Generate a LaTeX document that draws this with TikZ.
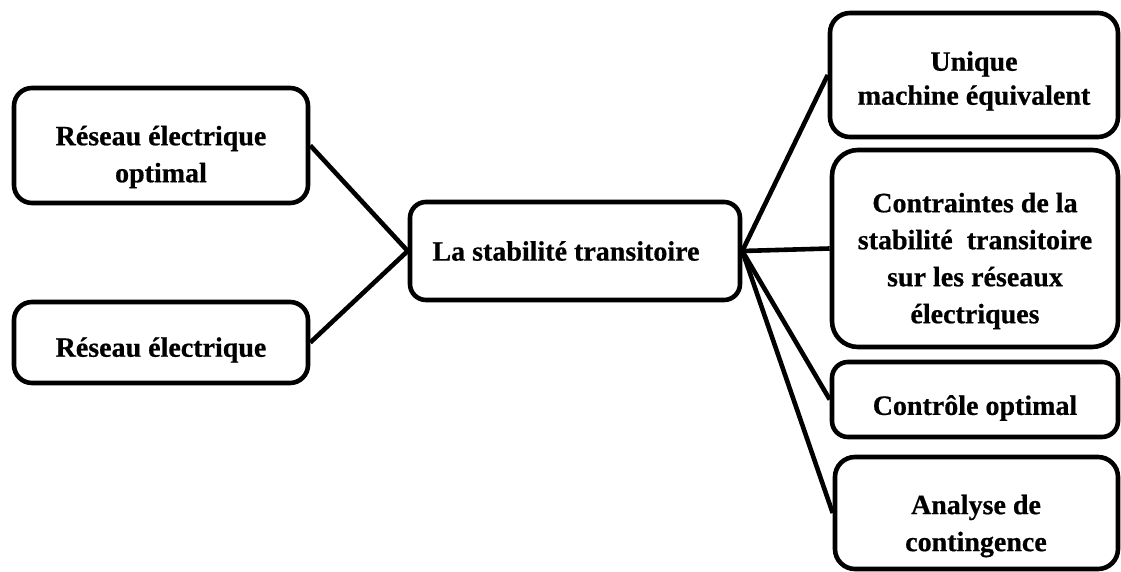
\documentclass[tikz,border=0pt]{standalone}
\usepackage{fontspec}
\setmainfont{Liberation Serif}[BoldFeatures={FakeBold=0.6}]
\begin{document}
\begin{tikzpicture}[x=0.5pt,y=-0.5pt,
  boxnode/.style={draw=black, line width=2.3pt, rectangle, inner sep=0pt},
  txt/.style={font=\bfseries\fontsize{14}{18.5}\selectfont, align=center, inner sep=0pt},
  link/.style={draw=black, line width=2.3pt}]
\useasboundingbox (0,0) rectangle (1121,572);
% left boxes
\node[boxnode, rounded corners=9pt, minimum width=147pt, minimum height=57.5pt] (l1) at (161,145.5) {};
\node[txt] (t1) at (161,157) {Réseau électrique\\optimal};
\node[boxnode, rounded corners=9pt, minimum width=147pt, minimum height=40.5pt] (l2) at (161,342.5) {};
\node[txt] (t2) at (161,350) {Réseau électrique};
% central box
\node[boxnode, rounded corners=8pt, minimum width=165pt, minimum height=49pt] (c) at (575,251) {};
\node[txt] (tc) at (566,251) {La stabilité transitoire};
% right boxes
\node[boxnode, rounded corners=10pt, minimum width=144pt, minimum height=62pt] (ra) at (974,75) {};
\node[txt, font=\bfseries\fontsize{14}{17}\selectfont] (ta) at (974,81) {Unique\\machine équivalent};
\node[boxnode, rounded corners=13pt, minimum width=143pt, minimum height=98.5pt] (rb) at (975,248.5) {};
\node[txt] (tb) at (975,261) {Contraintes de la\\stabilité\ \ transitoire\\sur les réseaux\\électriques};
\node[boxnode, rounded corners=8pt, minimum width=143pt, minimum height=37.5pt] (rc) at (975,399.5) {};
\node[txt] (tcc) at (975,408) {Contrôle optimal};
\node[boxnode, rounded corners=10pt, minimum width=141.5pt, minimum height=56pt] (rd) at (976.5,513) {};
\node[txt] (td) at (976,526) {Analyse de\\contingence};
% connectors
\draw[link] (l1.east) -- (c.west);
\draw[link] (l2.east) -- (c.west);
\draw[link] (c.east) -- (ra.west);
\draw[link] (c.east) -- (rb.west);
\draw[link] (c.east) -- (rc.west);
\draw[link] (c.east) -- (rd.west);
\end{tikzpicture}
\end{document}
